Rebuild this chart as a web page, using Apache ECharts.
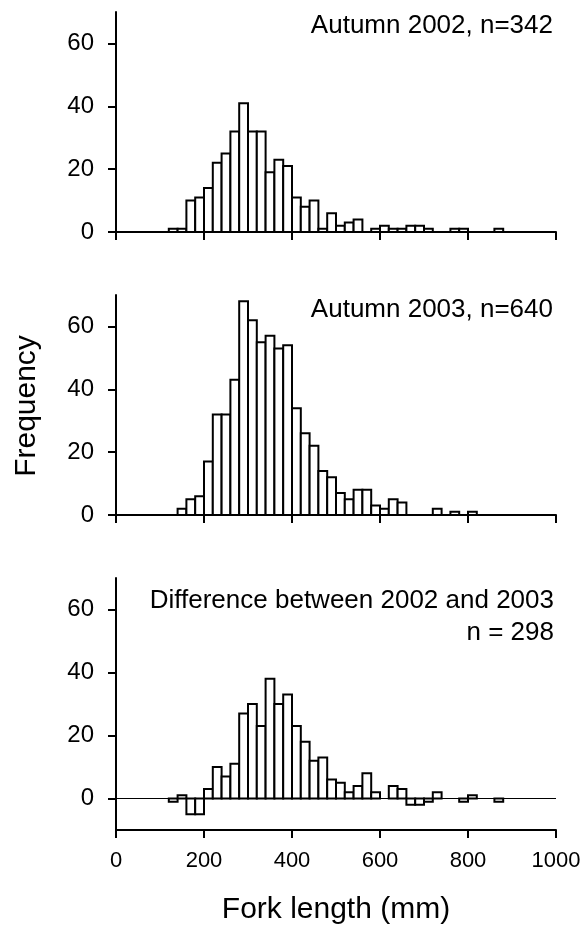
<!DOCTYPE html>
<html>
<head>
<meta charset="utf-8">
<script src="https://cdn.jsdelivr.net/npm/echarts@6/dist/echarts.min.js"></script>
<style>
  html, body { margin: 0; padding: 0; background: #fff; }
  #chart { width: 581px; height: 928px; }
</style>
</head>
<body>
<div id="chart"></div>
<script>
// Fork-length bins (lower edge, mm); every bin is 20 mm wide
const binStart = [120, 140, 160, 180, 200, 220, 240, 260, 280, 300,
                  320, 340, 360, 380, 400, 420, 440, 460, 480, 500,
                  520, 540, 560, 580, 600, 620, 640, 660, 680, 700,
                  720, 740, 760, 780, 800, 820, 840, 860];
const BIN_WIDTH = 20;

// Frequencies per bin
const autumn2002 = [1, 1, 10, 11, 14, 22, 25, 32, 41, 32,
                    32, 19, 23, 21, 11, 8, 10, 1, 6, 2,
                    3, 4, 0, 1, 2, 1, 1, 2, 2, 1,
                    0, 0, 1, 1, 0, 0, 0, 1];
const autumn2003 = [0, 2, 5, 6, 17, 32, 32, 43, 68, 62,
                    55, 57, 53, 54, 34, 26, 22, 14, 12, 7,
                    5, 8, 8, 3, 2, 5, 4, 0, 0, 0,
                    2, 0, 1, 0, 1, 0, 0, 0];
const difference = [-1, 1, -5, -5, 3, 10, 7, 11, 27, 30,
                    23, 38, 30, 33, 23, 18, 12, 13, 6, 5,
                    2, 4, 8, 2, 0, 4, 3, -2, -2, -1,
                    2, 0, 0, -1, 1, 0, 0, -1];

// Axis ticks
const xTicks = [0, 200, 400, 600, 800, 1000];
const yTicks = [0, 20, 40, 60];

const panelLabels = ['Autumn 2002, n=342', 'Autumn 2003, n=640',
                     'Difference between 2002 and 2003\nn = 298'];

const FONT = '"Liberation Sans", Arial, Helvetica, sans-serif';

const grids = [
  { left: 116, width: 440, top: 12, height: 220, outerBoundsMode: 'none' },
  { left: 116, width: 440, top: 295, height: 220, outerBoundsMode: 'none' },
  { left: 116, width: 440, top: 578, height: 252, outerBoundsMode: 'none' }
];
const yRanges = [[0, 70], [0, 70], [-10, 70]];

function xAxisFor(i) {
  return {
    type: 'value', gridIndex: i, min: 0, max: 1000, interval: 200,
    splitLine: { show: false },
    axisLine: { show: true, onZero: false, lineStyle: { color: '#000', width: 2 } },
    axisTick: { show: true, length: 8, customValues: xTicks, lineStyle: { color: '#000', width: 2 } },
    axisLabel: {
      show: i === 2, customValues: xTicks, margin: 20,
      formatter: function (v) { return String(v); },
      color: '#000', fontSize: 22, fontFamily: FONT
    }
  };
}

function yAxisFor(i) {
  return {
    type: 'value', gridIndex: i, min: yRanges[i][0], max: yRanges[i][1],
    splitLine: { show: false },
    axisLine: { show: true, onZero: false, lineStyle: { color: '#000', width: 2 } },
    axisTick: { show: true, length: 8, customValues: yTicks, lineStyle: { color: '#000', width: 2 } },
    axisLabel: {
      show: true, customValues: yTicks, margin: 22,
      color: '#000', fontSize: 24, fontFamily: FONT
    }
  };
}

function histSeries(i, values) {
  const data = [];
  binStart.forEach((s, k) => {
    if (values[k] !== 0) data.push([s, s + BIN_WIDTH, values[k]]);
  });
  const series = {
    type: 'custom', xAxisIndex: i, yAxisIndex: i,
    data: data,
    encode: { x: [0, 1], y: 2 },
    renderItem: function (params, api) {
      const p0 = api.coord([api.value(0), 0]);
      const p1 = api.coord([api.value(1), api.value(2)]);
      return {
        type: 'rect',
        shape: {
          x: p0[0], y: Math.min(p0[1], p1[1]),
          width: p1[0] - p0[0], height: Math.abs(p1[1] - p0[1])
        },
        style: { fill: '#fff', stroke: '#000', lineWidth: 2 }
      };
    }
  };
  if (i === 2) {
    series.markLine = {
      silent: true, symbol: 'none', label: { show: false },
      lineStyle: { color: '#000', width: 1, type: 'solid' },
      data: [{ yAxis: 0 }]
    };
  }
  return series;
}

const labelStyle = { fill: '#000', fontSize: 26, fontFamily: FONT, align: 'right', verticalAlign: 'middle' };

const option = {
  backgroundColor: '#fff',
  animation: false,
  grid: grids,
  xAxis: [0, 1, 2].map(xAxisFor),
  yAxis: [0, 1, 2].map(yAxisFor),
  series: [histSeries(0, autumn2002), histSeries(1, autumn2003), histSeries(2, difference)],
  graphic: [
    { type: 'text', x: 553, y: 26, style: Object.assign({ text: panelLabels[0] }, labelStyle) },
    { type: 'text', x: 553, y: 310, style: Object.assign({ text: panelLabels[1] }, labelStyle) },
    { type: 'text', x: 554, y: 617, style: Object.assign({ text: panelLabels[2], lineHeight: 32 }, labelStyle) },
    {
      type: 'text', x: 27, y: 406, rotation: Math.PI / 2,
      style: { text: 'Frequency', fill: '#000', fontSize: 30, fontFamily: FONT, align: 'center', verticalAlign: 'middle' }
    },
    {
      type: 'text', x: 336, y: 910,
      style: { text: 'Fork length (mm)', fill: '#000', fontSize: 30, fontFamily: FONT, align: 'center', verticalAlign: 'middle' }
    }
  ]
};

const chart = echarts.init(document.getElementById('chart'), null, { renderer: 'canvas' });
chart.setOption(option);
</script>
</body>
</html>
